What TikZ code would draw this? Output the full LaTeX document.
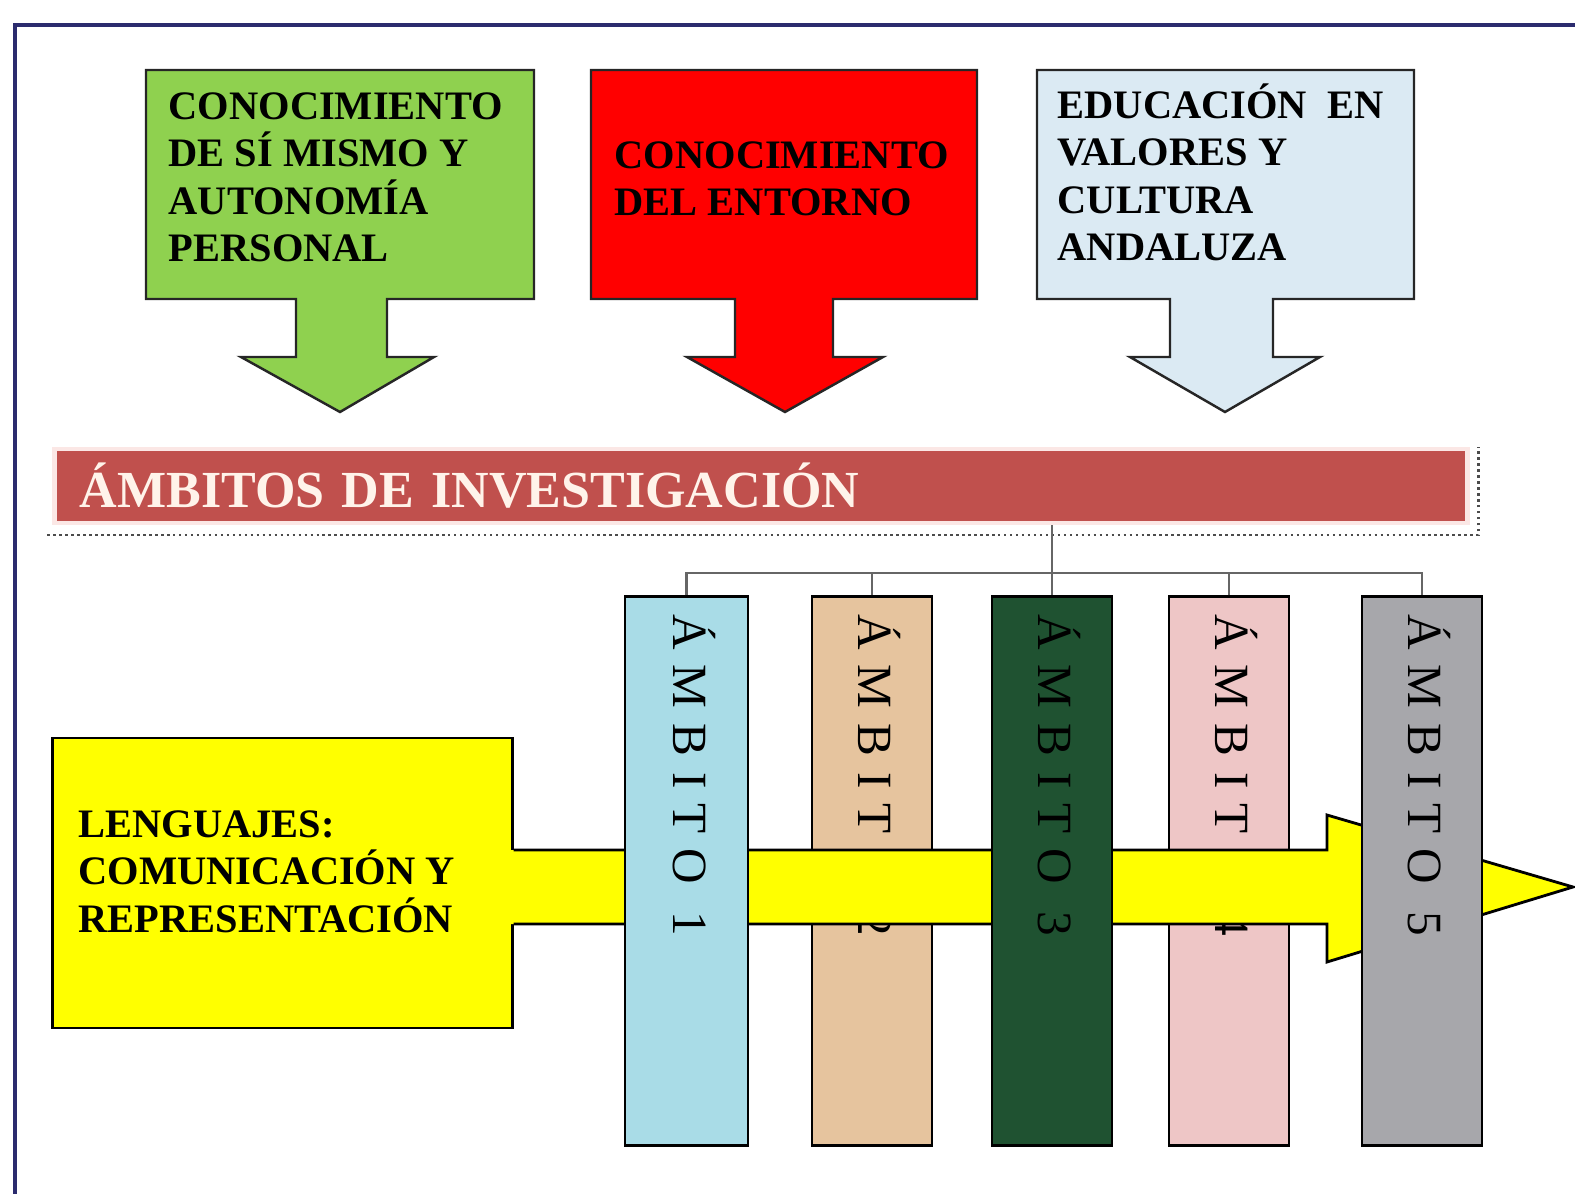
\documentclass[tikz,border=0pt]{standalone}
\usepackage{fontspec}
\setmainfont{Liberation Serif}
\newfontfamily\spacedfont[LetterSpace=31]{Liberation Serif}
\usetikzlibrary{positioning}

\definecolor{marco}{HTML}{2B2B6E}
\definecolor{verde}{HTML}{8FD14F}
\definecolor{rojo}{HTML}{FF0000}
\definecolor{celeste}{HTML}{DBEAF3}
\definecolor{granate}{HTML}{C0504D}
\definecolor{brillo}{HTML}{FBE7E5}
\definecolor{crema}{HTML}{FFF3EA}
\definecolor{amarillo}{HTML}{FFFF00}
\definecolor{agua}{HTML}{A9DCE7}
\definecolor{arena}{HTML}{E6C49E}
\definecolor{jade}{HTML}{1F5231}
\definecolor{rosa}{HTML}{EEC6C6}
\definecolor{gris}{HTML}{A7A7AB}

\tikzset{
  area/.style={font=\bfseries\fontsize{11.5}{13.5}\selectfont, align=left, inner sep=0pt, anchor=north west},
  callout/.style={draw=black!85, line width=0.7pt},
  ambito/.style={draw=black, line width=0.8pt, minimum width=1.2cm, minimum height=5.48cm, inner sep=0pt},
  ambtext/.style={rotate=-90, anchor=west, inner sep=0pt, text height=9.3pt, text depth=0pt,
    font=\spacedfont\fontsize{14}{14}\selectfont},
  conn/.style={draw=black!60, line width=0.6pt}
}

\begin{document}
\begin{tikzpicture}[x=0.01cm, y=-0.01cm]
  \useasboundingbox (0,0) rectangle (1575,1194);
  \draw[marco, line width=0.9pt] (15,1194) -- (15,25) -- (1575,25);

  % three areas on top
  \draw[callout, fill=verde] (146,70) -- (534,70) -- (534,299) -- (387,299) -- (387,357) -- (434,357)
    -- (340,412) -- (241,357) -- (296,357) -- (296,299) -- (146,299) -- cycle;
  \draw[callout, fill=rojo] (591,70) -- (977,70) -- (977,299) -- (833,299) -- (833,357) -- (883,357)
    -- (785,412) -- (687,357) -- (735,357) -- (735,299) -- (591,299) -- cycle;
  \draw[callout, fill=celeste] (1037,70) -- (1414,70) -- (1414,299) -- (1273,299) -- (1273,357) -- (1320,357)
    -- (1225,412) -- (1130,357) -- (1170,357) -- (1170,299) -- (1037,299) -- cycle;

  \node[area] (conA) at (168,92) {CONOCIMIENTO\\DE SÍ MISMO Y\\AUTONOMÍA\\PERSONAL};
  \node[area] (conB) at (614,141) {CONOCIMIENTO\\DEL ENTORNO};
  \node[area] (conC) at (1057,83) {EDUCACIÓN\ \ EN\\VALORES Y\\CULTURA\\ANDALUZA};

  % banner
  \node[fill=granate, draw=brillo, line width=1.2pt, minimum width=14.12cm, minimum height=0.74cm,
    text width=13.62cm, inner xsep=0.25cm, align=left, text=crema,
    font=\bfseries\fontsize{14.8}{16}\selectfont] (banner) at (761,486) {ÁMBITOS DE INVESTIGACIÓN};
  \draw[black!70, densely dotted, line width=0.7pt] ([xshift=-0.05cm,yshift=-0.1cm]banner.south west)
    -- ([xshift=0.09cm,yshift=-0.1cm]banner.south east) -- ([xshift=0.09cm]banner.north east);

  % ambitos behind the arrow
  \node[ambito, fill=arena] (amb2) at (872,871) {};
  \node[ambito, fill=rosa] (amb4) at (1229,871) {};
  \node[ambtext] (lab2) at ([xshift=0.03cm,yshift=-0.18cm]amb2.north) {ÁMBITO 2};
  \node[ambtext] (lab4) at ([xshift=0.03cm,yshift=-0.18cm]amb4.north) {ÁMBITO 4};

  % lenguajes and its arrow
  \node[draw=black, line width=0.8pt, fill=amarillo, minimum width=4.59cm, minimum height=2.9cm] (leng) at (282.5,883) {};
  \fill[amarillo] (505,850) -- (1327,850) -- (1327,815) -- (1573,887) -- (1327,962) -- (1327,924) -- (505,924) -- cycle;
  \draw[black, line width=0.8pt] (leng.east |- 0,850) -- (1327,850) -- (1327,815) -- (1573,887)
    -- (1327,962) -- (1327,924) -- (leng.east |- 0,924);
  \node[area] (lengtxt) at (78,810) {LENGUAJES:\\COMUNICACIÓN Y\\REPRESENTACIÓN};

  % ambitos in front of the arrow
  \node[ambito, fill=agua, minimum width=1.23cm] (amb1) at (686.5,871) {};
  \node[ambito, fill=jade] (amb3) at (1052,871) {};
  \node[ambito, fill=gris] (amb5) at (1422,871) {};
  \node[ambtext] (lab1) at ([xshift=0.03cm,yshift=-0.18cm]amb1.north) {ÁMBITO 1};
  \node[ambtext] (lab3) at ([xshift=0.03cm,yshift=-0.18cm]amb3.north) {ÁMBITO 3};
  \node[ambtext] (lab5) at ([xshift=0.03cm,yshift=-0.18cm]amb5.north) {ÁMBITO 5};

  % tree from the banner
  \coordinate (bus) at (1052,573);
  \draw[conn] (banner.south -| amb3.north) -- (amb3.north);
  \draw[conn] (amb1.north) -- (amb1.north |- bus) -- (amb5.north |- bus) -- (amb5.north);
  \foreach \i in {2,4}
    \draw[conn] (amb\i.north) -- (amb\i.north |- bus);
\end{tikzpicture}
\end{document}
